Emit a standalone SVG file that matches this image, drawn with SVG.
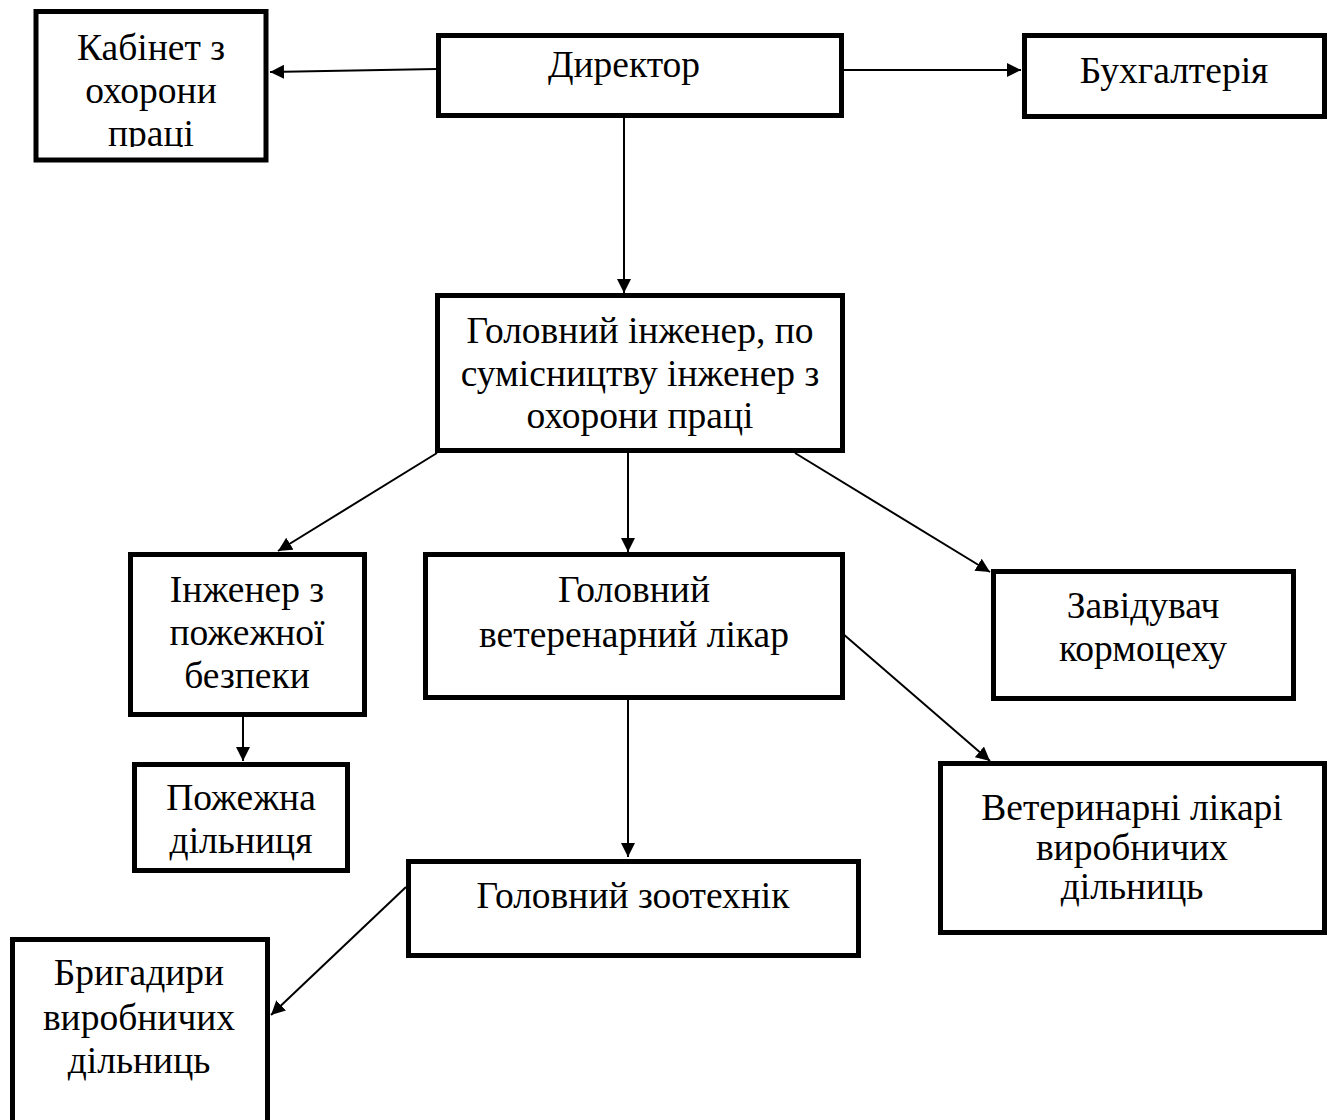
<svg xmlns="http://www.w3.org/2000/svg" width="1333" height="1120" viewBox="0 0 1333 1120">
<style>
.box{fill:#fff;stroke:#000;stroke-width:5}
.t{font-family:"Liberation Serif","Times New Roman",serif;font-size:37.5px;fill:#000;text-anchor:middle}
.c{stroke:#000;stroke-width:2;fill:none;marker-end:url(#ah)}
</style>
<defs>
<marker id="ah" markerUnits="userSpaceOnUse" markerWidth="15" markerHeight="15" refX="14" refY="7" orient="auto">
<path d="M0,0 L14,7 L0,14 z" fill="#000"/>
</marker>
<clipPath id="kclip"><rect x="0" y="0" width="400" height="147"/></clipPath>
</defs>
<rect width="1333" height="1120" fill="#fff"/>
<g id="connectors">
<line class="c" x1="437" y1="69" x2="270" y2="72"/>
<line class="c" x1="843" y1="70" x2="1021" y2="70"/>
<line class="c" x1="624" y1="118" x2="624" y2="293"/>
<line class="c" x1="437" y1="453" x2="278" y2="551"/>
<line class="c" x1="628" y1="453" x2="628" y2="552"/>
<line class="c" x1="795" y1="453" x2="990" y2="572"/>
<line class="c" x1="842" y1="633" x2="990" y2="761"/>
<line class="c" x1="628" y1="700" x2="628" y2="857"/>
<line class="c" x1="243" y1="717" x2="243" y2="761"/>
<line class="c" x1="406" y1="887" x2="271" y2="1015"/>
</g>
<g id="kabinet">
<rect class="box" x="36" y="11.5" width="230" height="148.5"/>
<g clip-path="url(#kclip)">
<text class="t" x="151" y="60">Кабінет з</text>
<text class="t" x="151" y="103">охорони</text>
<text class="t" x="151" y="146">праці</text>
</g>
</g>
<g id="dyrektor">
<rect class="box" x="438.5" y="35.5" width="403" height="80"/>
<text class="t" x="624" y="77">Директор</text>
</g>
<g id="buhgalteriya">
<rect class="box" x="1024.5" y="35.5" width="300" height="81"/>
<text class="t" x="1174" y="83">Бухгалтерія</text>
</g>
<g id="golovnyi-inzhener">
<rect class="box" x="437.5" y="295.5" width="405" height="155"/>
<text class="t" x="640" y="343">Головний інженер, по</text>
<text class="t" x="640" y="386">сумісництву інженер з</text>
<text class="t" x="640" y="428">охорони праці</text>
</g>
<g id="inzhener-pozhezhnoi">
<rect class="box" x="130.5" y="554.5" width="234" height="160"/>
<text class="t" x="247" y="602">Інженер з</text>
<text class="t" x="247" y="645">пожежної</text>
<text class="t" x="247" y="688">безпеки</text>
</g>
<g id="golovnyi-vet">
<rect class="box" x="425.5" y="554.5" width="417" height="143"/>
<text class="t" x="634" y="602">Головний</text>
<text class="t" x="634" y="647">ветеренарний лікар</text>
</g>
<g id="zaviduvach">
<rect class="box" x="993.5" y="571.5" width="300" height="127"/>
<text class="t" x="1143" y="618">Завідувач</text>
<text class="t" x="1143" y="661">кормоцеху</text>
</g>
<g id="pozhezhna">
<rect class="box" x="134.5" y="764.5" width="213" height="106"/>
<text class="t" x="241" y="810">Пожежна</text>
<text class="t" x="241" y="853">дільниця</text>
</g>
<g id="vet-likari">
<rect class="box" x="940.5" y="763.5" width="384" height="169"/>
<text class="t" x="1132" y="820">Ветеринарні лікарі</text>
<text class="t" x="1132" y="860">виробничих</text>
<text class="t" x="1132" y="899">дільниць</text>
</g>
<g id="zootehnik">
<rect class="box" x="408.5" y="861.5" width="450" height="94"/>
<text class="t" x="633" y="908">Головний зоотехнік</text>
</g>
<g id="brygadyry">
<rect class="box" x="12.5" y="939.5" width="255" height="200"/>
<text class="t" x="139" y="985">Бригадири</text>
<text class="t" x="139" y="1030">виробничих</text>
<text class="t" x="139" y="1073">дільниць</text>
</g>
</svg>
